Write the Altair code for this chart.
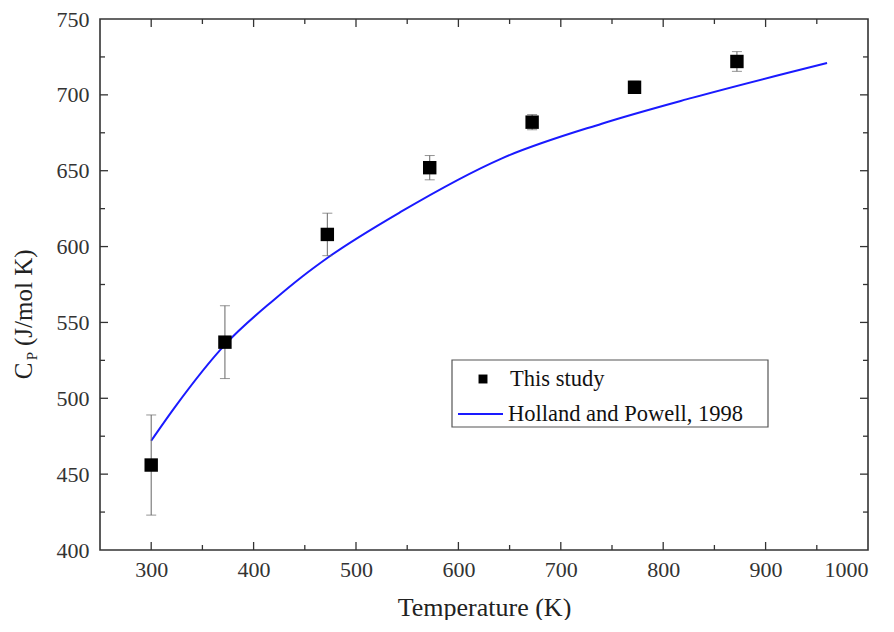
import altair as alt
import pandas as pd

# Measured data (This study)
temps = [300, 372, 472, 572, 672, 772, 872]
cp = [456, 537, 608, 652, 682, 705, 722]
cp_err = [33, 24, 14, 8, 5, 4, 6.5]

# Holland and Powell, 1998 curve
curve_t = [300, 323, 373, 420, 447, 473, 544, 642, 740, 828, 960]
curve_cp = [472, 494, 536, 565, 580, 593, 623, 658, 681, 698, 721]

# Tick values
x_labels = [300, 400, 500, 600, 700, 800, 900, 1000]
y_labels = [400, 450, 500, 550, 600, 650, 700, 750]
x_major = [300, 400, 500, 600, 700, 800, 900]
x_minor = [350, 450, 550, 650, 750, 850, 950]
y_major = [450, 500, 550, 600, 650, 700]
y_minor = [425, 475, 525, 575, 625, 675, 725]

W, H = 768, 531
FONT = "Liberation Serif"

pts = pd.DataFrame({"T": temps, "Cp": cp, "err": cp_err})
pts["lo"] = pts["Cp"] - pts["err"]
pts["hi"] = pts["Cp"] + pts["err"]
curve = pd.DataFrame({"T": curve_t, "Cp": curve_cp})

xscale = alt.Scale(domain=[250, 1000], nice=False, zero=False)
yscale = alt.Scale(domain=[400, 750], nice=False, zero=False)

xaxis = alt.Axis(values=x_labels, format="d", ticks=False, tickSize=0,
                 domain=False, grid=False, labelFont=FONT, labelFontSize=22, labelColor="#333",
                 labelPadding=9, title="Temperature (K)", titleFont=FONT, titleFontSize=26,
                 titleFontWeight="normal", titleColor="#222", titlePadding=14)
yaxis = alt.Axis(values=y_labels, format="d", ticks=False, tickSize=0,
                 domain=False, grid=False, labelFont=FONT, labelFontSize=22, labelColor="#333",
                 labelPadding=11)

X = alt.X("T:Q", scale=xscale, axis=xaxis)
Y = alt.Y("Cp:Q", scale=yscale, axis=yaxis, title=None)

line = alt.Chart(curve).mark_line(color="#1a1aff", strokeWidth=2, interpolate="monotone").encode(x=X, y=Y)

err_rule = alt.Chart(pts).mark_rule(color="#666", strokeWidth=1).encode(
    x=alt.X("T:Q", scale=xscale), y=alt.Y("lo:Q", scale=yscale), y2="hi:Q")
cap_lo = alt.Chart(pts).mark_tick(color="#666", orient="horizontal", size=10, thickness=1).encode(
    x=alt.X("T:Q", scale=xscale), y=alt.Y("lo:Q", scale=yscale))
cap_hi = alt.Chart(pts).mark_tick(color="#666", orient="horizontal", size=10, thickness=1).encode(
    x=alt.X("T:Q", scale=xscale), y=alt.Y("hi:Q", scale=yscale))
squares = alt.Chart(pts).mark_square(color="black", size=180, opacity=1).encode(
    x=alt.X("T:Q", scale=xscale), y=alt.Y("Cp:Q", scale=yscale))

# inward ticks
def xticks(vals, length):
    d = pd.DataFrame({"v": vals})
    bot = alt.Chart(d).mark_rule(color="#333", strokeWidth=1.3).encode(
        x=alt.X("v:Q", scale=xscale), y=alt.value(H), y2=alt.value(H - length))
    top = alt.Chart(d).mark_rule(color="#333", strokeWidth=1.3).encode(
        x=alt.X("v:Q", scale=xscale), y=alt.value(0), y2=alt.value(length))
    return [bot, top]

def yticks(vals, length):
    d = pd.DataFrame({"v": vals})
    left = alt.Chart(d).mark_rule(color="#333", strokeWidth=1.3).encode(
        y=alt.Y("v:Q", scale=yscale), x=alt.value(0), x2=alt.value(length))
    right = alt.Chart(d).mark_rule(color="#333", strokeWidth=1.3).encode(
        y=alt.Y("v:Q", scale=yscale), x=alt.value(W), x2=alt.value(W - length))
    return [left, right]

tick_layers = xticks(x_major, 8) + xticks(x_minor, 5) + yticks(y_major, 8) + yticks(y_minor, 5)

one = pd.DataFrame({"a": [0]})

# legend
leg_box = alt.Chart(one).mark_rect(fill="white", stroke="#555", strokeWidth=1.2).encode(
    x=alt.value(352), x2=alt.value(668), y=alt.value(341), y2=alt.value(408))
leg_sq = alt.Chart(one).mark_square(color="black", size=80, opacity=1).encode(
    x=alt.value(383), y=alt.value(360))
leg_line = alt.Chart(one).mark_rule(color="#1a1aff", strokeWidth=2).encode(
    x=alt.value(358), x2=alt.value(403), y=alt.value(395))
leg_t1 = alt.Chart(one).mark_text(text="This study", font=FONT, fontSize=22.5, align="left",
                                  baseline="middle", color="#111").encode(
    x=alt.value(410), y=alt.value(360))
leg_t2 = alt.Chart(one).mark_text(text="Holland and Powell, 1998", font=FONT, fontSize=22.5,
                                  align="left", baseline="middle", color="#111").encode(
    x=alt.value(408), y=alt.value(395))

# y title with subscript
yt_c = alt.Chart(one).mark_text(text="C", font=FONT, fontSize=25, angle=270, align="center",
                                baseline="alphabetic", color="#222").encode(
    x=alt.value(-68), y=alt.value(352))
yt_p = alt.Chart(one).mark_text(text="P", font=FONT, fontSize=15, angle=270, align="center",
                                baseline="alphabetic", color="#222").encode(
    x=alt.value(-63), y=alt.value(337))
yt_rest = alt.Chart(one).mark_text(text="(J/mol K)", font=FONT, fontSize=25, angle=270,
                                   align="left", baseline="alphabetic", color="#222").encode(
    x=alt.value(-68), y=alt.value(327))

chart = alt.layer(
    line, err_rule, cap_lo, cap_hi, squares, *tick_layers,
    leg_box, leg_sq, leg_line, leg_t1, leg_t2, yt_c, yt_p, yt_rest
).properties(
    width=W, height=H,
    padding={"left": 92, "top": 11, "right": 18, "bottom": 70},
    autosize=alt.AutoSizeParams(type="none"),
    background="white",
).configure_view(stroke="#333", strokeWidth=1.6)

chart.save("out.html", embed_options={"renderer": "svg", "actions": False})
